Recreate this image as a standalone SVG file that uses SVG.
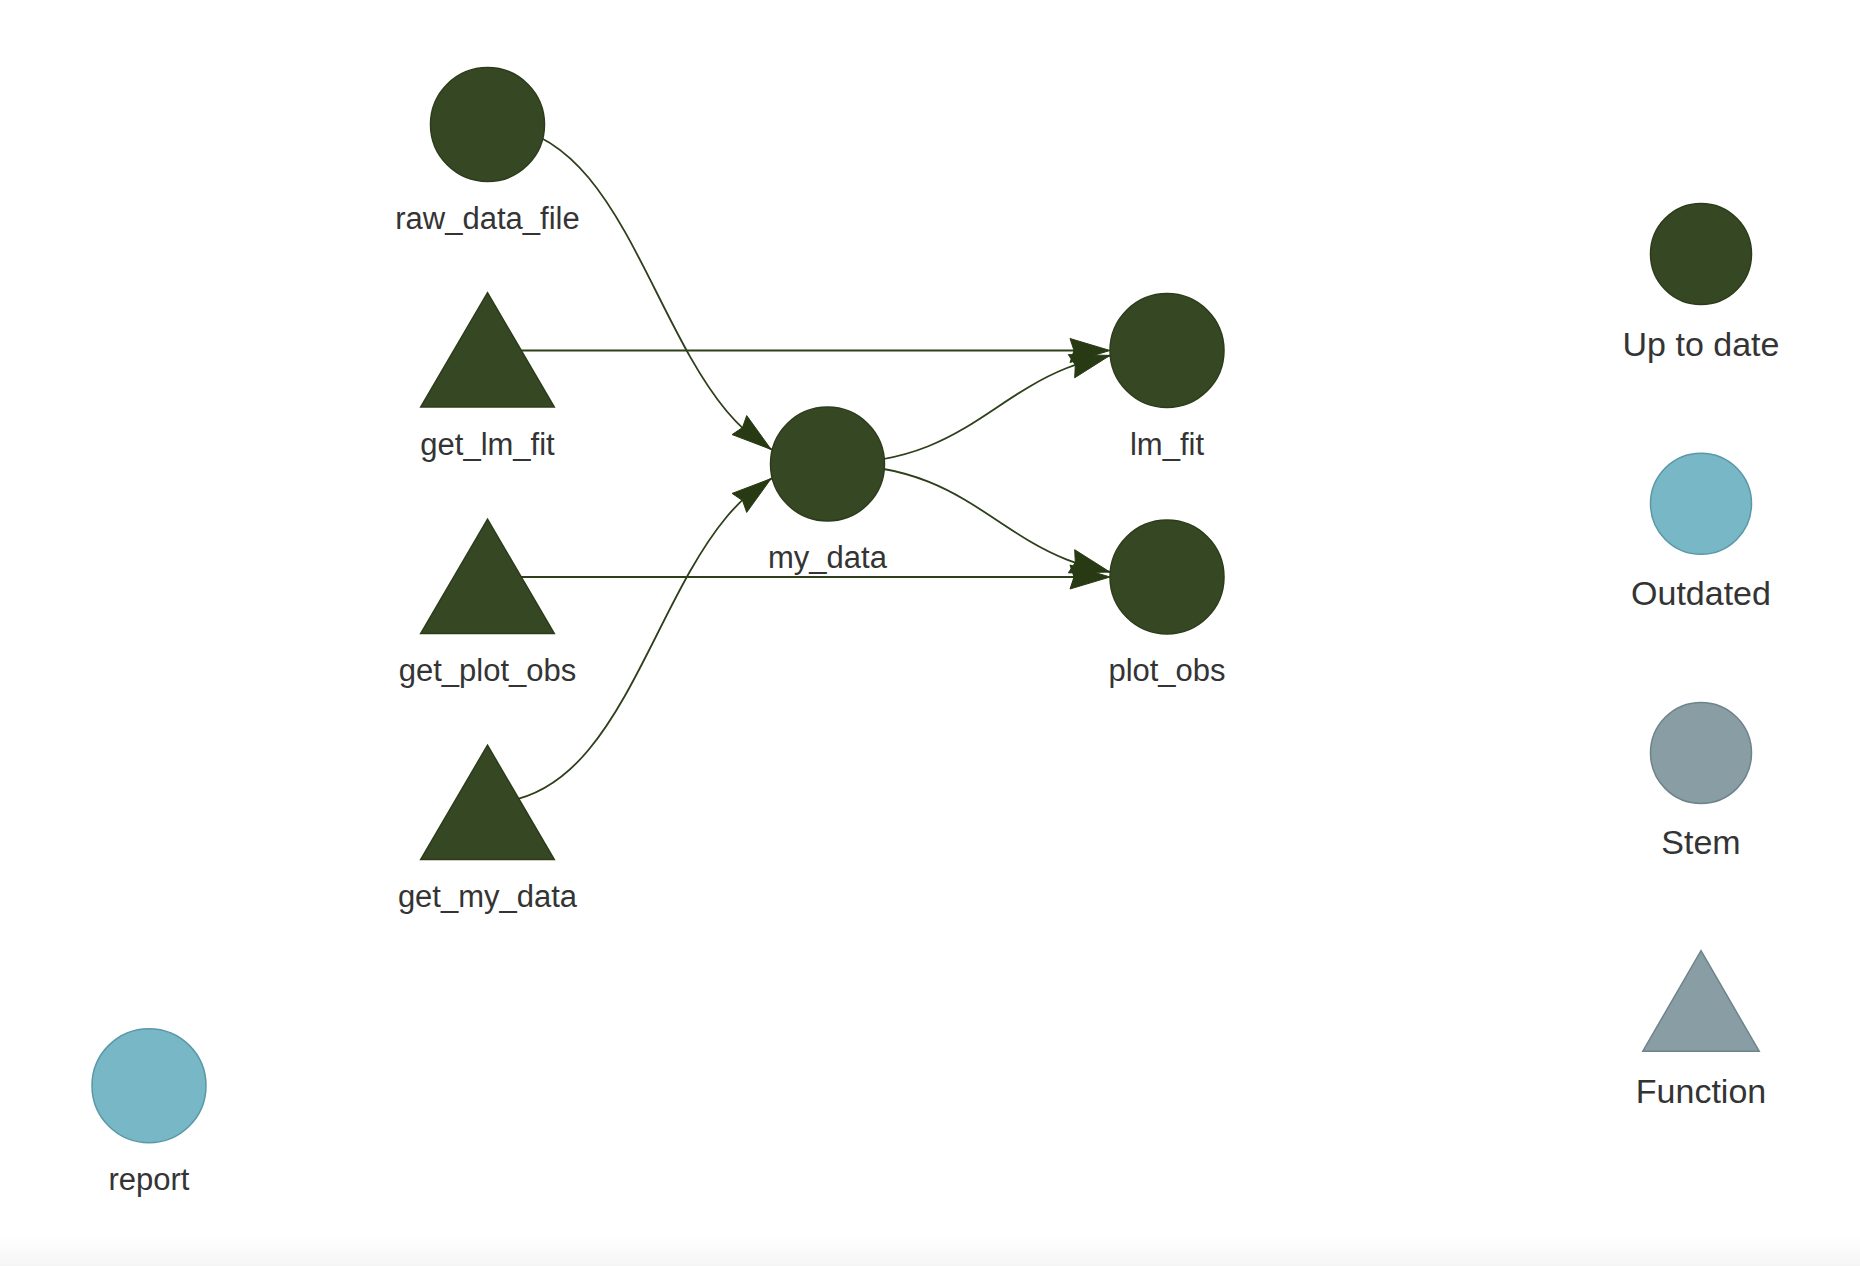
<svg xmlns="http://www.w3.org/2000/svg" width="1860" height="1266" viewBox="0 0 1860 1266">
  <defs>
    <linearGradient id="bottomFade" x1="0" y1="0" x2="0" y2="1">
      <stop offset="0" stop-color="#ffffff"/>
      <stop offset="1" stop-color="#f5f5f5"/>
    </linearGradient>
  </defs>
  <style>
    .edge { fill: none; stroke: #2E3F1B; stroke-width: 1.8; }
    .arrow { fill: #283A14; stroke: #283A14; stroke-width: 1; stroke-linejoin: miter; }
    .uptodate { fill: #354823; stroke: #2C3C1B; stroke-width: 1.5; }
    .outdated { fill: #78B7C5; stroke: #5A98A7; stroke-width: 1.5; }
    .stem { fill: #899DA4; stroke: #6E838A; stroke-width: 1.5; }
    .lbl { font-family: "Liberation Sans", Arial, sans-serif; font-size: 31px; fill: #343434; text-anchor: middle; }
    .leg { font-family: "Liberation Sans", Arial, sans-serif; font-size: 34px; fill: #343434; text-anchor: middle; }
  </style>
  <rect x="0" y="0" width="1860" height="1266" fill="#ffffff"/>
  <rect x="0" y="1236" width="1860" height="30" fill="url(#bottomFade)"/>

  <g id="connectors">
    <!-- raw_data_file -> my_data -->
    <path class="edge" d="M487.5,124.5 C657.5,124.5 657.5,464 827.5,464"/>
    <polygon class="arrow" points="771.1,449.4 732.1,434.6 742.5,427.5 746.7,415.6"/>
    <!-- get_my_data -> my_data -->
    <path class="edge" d="M487.5,803 C657.5,803 657.5,464 827.5,464"/>
    <polygon class="arrow" points="771.1,478.6 746.7,512.4 742.5,500.5 732.1,493.4"/>
    <!-- my_data -> lm_fit -->
    <path class="edge" d="M827.5,464 C997.25,464 997.25,350.5 1167,350.5"/>
    <polygon class="arrow" points="1110,355.4 1074.7,377.8 1075.3,365.1 1068.3,354.6"/>
    <!-- my_data -> plot_obs -->
    <path class="edge" d="M827.5,464 C997.25,464 997.25,577 1167,577"/>
    <polygon class="arrow" points="1110,572.1 1068.3,572.9 1075.3,562.4 1074.7,549.7"/>
    <!-- get_lm_fit -> lm_fit -->
    <path class="edge" d="M487.5,350.5 L1074,350.5"/>
    <polygon class="arrow" points="1110,350.5 1070,362.5 1074,350.5 1070,338.5"/>
    <!-- get_plot_obs -> plot_obs -->
    <path class="edge" d="M487.5,577 L1074,577"/>
    <polygon class="arrow" points="1110,577 1070,589 1074,577 1070,565"/>
  </g>

  <g id="raw_data_file">
    <circle class="uptodate" cx="487.5" cy="124.5" r="57"/>
    <text class="lbl" x="487.5" y="228.5">raw_data_file</text>
  </g>
  <g id="get_lm_fit">
    <polygon class="uptodate" points="487.5,292.7 554.3,407 420.7,407"/>
    <text class="lbl" x="487.5" y="454.5">get_lm_fit</text>
  </g>
  <g id="get_plot_obs">
    <polygon class="uptodate" points="487.5,519.2 554.3,633.5 420.7,633.5"/>
    <text class="lbl" x="487.5" y="681">get_plot_obs</text>
  </g>
  <g id="get_my_data">
    <polygon class="uptodate" points="487.5,745.2 554.3,859.5 420.7,859.5"/>
    <text class="lbl" x="487.5" y="907">get_my_data</text>
  </g>
  <g id="my_data">
    <circle class="uptodate" cx="827.5" cy="464" r="57"/>
    <text class="lbl" x="827.5" y="567.5">my_data</text>
  </g>
  <g id="lm_fit">
    <circle class="uptodate" cx="1167" cy="350.5" r="57"/>
    <text class="lbl" x="1167" y="454.5">lm_fit</text>
  </g>
  <g id="plot_obs">
    <circle class="uptodate" cx="1167" cy="577" r="57"/>
    <text class="lbl" x="1167" y="681">plot_obs</text>
  </g>
  <g id="report">
    <circle class="outdated" cx="149" cy="1085.7" r="57"/>
    <text class="lbl" x="149" y="1189.5">report</text>
  </g>

  <g id="legend">
    <g id="legend_uptodate">
      <circle class="uptodate" cx="1701" cy="254" r="50.5"/>
      <text class="leg" x="1701" y="355.5">Up to date</text>
    </g>
    <g id="legend_outdated">
      <circle class="outdated" cx="1701" cy="503.7" r="50.5"/>
      <text class="leg" x="1701" y="604.5">Outdated</text>
    </g>
    <g id="legend_stem">
      <circle class="stem" cx="1701" cy="752.9" r="50.5"/>
      <text class="leg" x="1701" y="854">Stem</text>
    </g>
    <g id="legend_function">
      <polygon class="stem" points="1701,950.7 1759.2,1051.2 1642.8,1051.2"/>
      <text class="leg" x="1701" y="1103.3">Function</text>
    </g>
  </g>
</svg>
